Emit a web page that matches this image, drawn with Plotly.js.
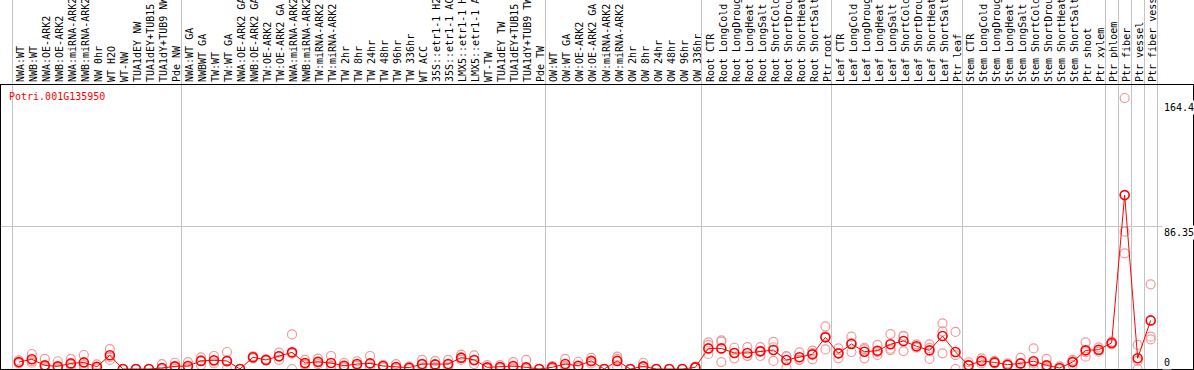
<!DOCTYPE html>
<html>
<head>
<meta charset="utf-8">
<script src="https://cdn.plot.ly/plotly-3.0.1.min.js"></script>
<style>html,body{margin:0;padding:0;background:#fff;}#chart{width:1194px;height:370px;}</style>
</head>
<body>
<div id="chart"></div>
<script>
const geneId = 'Potri.001G135950';

const labels = [
  'NWA:WT','NWB:WT','NWA:OE-ARK2','NWB:OE-ARK2','NWA:miRNA-ARK2','NWB:miRNA-ARK2','NW 0hr','WT H2O','WT-NW','TUA1dEY NW','TUA1dEY+TUB15 NW','TUA1dY+TUB9 NW','Pde NW',
  'NWA:WT GA','NWBWT GA','TW:WT','TW:WT GA','NWA:OE-ARK2 GA','NWB:OE-ARK2 GA','TW:OE-ARK2','TW:OE-ARK2 GA','NWA:miRNA-ARK2','NWB:miRNA-ARK2','TW:miRNA-ARK2','TW:miRNA-ARK2','TW 2hr','TW 8hr','TW 24hr','TW 48hr','TW 96hr','TW 336hr','WT ACC','35S::etr1-1 H2O','35S::etr1-1 ACC','LMX5::etr1-1 H2O','LMX5::etr1-1 ACC','WT-TW','TUA1dEY TW','TUA1dEY+TUB15 TW','TUA1dY+TUB9 TW','Pde TW',
  'OW:WT','OW:WT GA','OW:OE-ARK2','OW:OE-ARK2 GA','OW:miRNA-ARK2','OW:miRNA-ARK2','OW 2hr','OW 8hr','OW 24hr','OW 48hr','OW 96hr','OW 336hr',
  'Root CTR','Root LongCold','Root LongDrought','Root LongHeat','Root LongSalt','Root ShortCold','Root ShortDrought','Root ShortHeat','Root ShortSalt','Ptr root',
  'Leaf CTR','Leaf LongCold','Leaf LongDrought','Leaf LongHeat','Leaf LongSalt','Leaf ShortCold','Leaf ShortDrought','Leaf ShortHeat','Leaf ShortSalt','Ptr leaf',
  'Stem CTR','Stem LongCold','Stem LongDrought','Stem LongHeat','Stem LongSalt','Stem ShortCold','Stem ShortDrought','Stem ShortHeat','Stem ShortSalt','Ptr shoot','Ptr xylem',
  'Ptr phloem','Ptr fiber','Ptr vessel','Ptr fiber vessel'
];

// number of categories in each separated group (left to right)
const groupSizes = [13, 28, 12, 10, 10, 11, 1, 1, 1, 1];

const meanVals = [
  4.2, 5.9, 2.2, 1.6, 3.4, 4.0, 1.4, 8.3, 0, 0, 0, 0.6, 1.6,
  1.8, 4.9, 5.3, 4.9, 0, 7.1, 5.5, 7.7, 10.1, 3.6, 4.4, 3.6, 2.0, 3.0, 3.4, 1.8, 1.2, 0.8, 3.0, 2.8, 3.0, 6.9, 5.5, 1.0, 1.2, 1.8, 1.0, 0,
  1.0, 3.0, 2.0, 4.9, 0, 4.9, 0, 1.6, 0, 0, 0, 1.0,
  12.5, 12.5, 9.7, 9.7, 10.7, 11.5, 5.5, 7.1, 8.9, 19.2,
  9.5, 15.2, 10.5, 11.1, 15.0, 17.0, 13.8, 11.3, 20.0, 10.3,
  2.2, 4.9, 4.0, 2.6, 3.4, 4.7, 2.2, 0.6, 4.2, 11.3, 11.7,
  15.8, 105.5, 6.5, 29.5
];

const rep1 = [
  5.3, 9.1, 6.1, 4.7, 6.1, 8.5, 2.8, 12.1, 0, 0, 0, 3.0, 3.8,
  4.2, 7.1, 7.9, 10.3, 0, 7.1, 5.5, 9.9, 21.0, 5.5, 6.3, 7.9, 3.8, 4.7, 7.9, 2.4, 3.0, 1.0, 5.5, 4.9, 5.5, 8.7, 8.3, 2.4, 2.4, 4.2, 5.5, 0,
  1.8, 6.1, 4.4, 6.7, 0, 7.5, 0, 3.8, 0, 0, 0, 1.0,
  16.2, 17.4, 12.9, 13.3, 13.3, 16.4, 7.7, 10.1, 11.1, 25.9,
  12.5, 19.6, 12.1, 14.6, 21.2, 20.0, 15.0, 15.0, 27.7, 22.5,
  0, 6.5, 4.9, 3.4, 6.7, 12.5, 6.1, 0, 5.5, 16.2, 13.1,
  15.8, 164.4, 14.6, 51.4
];

const rep2 = [
  3.4, 3.8, 1.4, 1.0, 2.6, 2.4, 1.0, 5.5, 0, 0, 0, 0, 1.0,
  1.0, 2.4, 3.4, 0, 0, 6.5, 5.0, 5.5, 0, 3.0, 3.0, 1.0, 1.0, 2.2, 1.0, 1.0, 0, 0, 1.0, 1.0, 1.0, 5.5, 3.0, 0, 0.4, 1.0, 0, 0,
  0, 1.0, 1.0, 3.4, 0, 1.0, 0, 1.0, 0, 0, 0, 0.6,
  14.6, 16.6, 6.5, 7.9, 7.9, 4.9, 1.0, 5.5, 5.9, 11.9,
  6.5, 10.3, 6.5, 8.5, 11.5, 10.9, 13.5, 6.1, 9.5, 0,
  2.5, 3.4, 3.4, 2.2, 3.4, 3.4, 1.0, 1.6, 2.4, 7.5, 10.5,
  15.0, 83.3, 0, 19.6
];

const rep3 = [
  4.0, 4.8, 0, 0, 0.4, 0.4, 0.4, 7.3, 0, 0, 0, 0, 0,
  0.2, 5.2, 4.6, 4.4, 0, 7.7, 6.0, 7.7, 9.3, 2.3, 3.9, 1.9, 1.2, 2.1, 1.3, 2.0, 0.6, 1.4, 2.5, 2.5, 2.5, 6.5, 5.2, 0.6, 0.8, 0.2, 0, 0,
  1.2, 1.9, 0.6, 4.6, 0, 6.2, 0, 0, 0, 0, 0, 1.4,
  9.1, 4.2, 9.7, 8.0, 10.9, 13.2, 7.8, 5.7, 9.7, 19.8,
  9.5, 15.7, 12.9, 10.2, 12.3, 20.1, 12.9, 12.8, 22.8, 8.4,
  4.1, 4.8, 3.7, 2.2, 0.1, 0, 0, 0.2, 4.7, 10.2, 11.5,
  16.6, 70.2, 4.9, 18.0
];

const yGridVals = [86.35];
const yLabelVals = [164.4, 86.35, 0];
const yLabelText = ['164.4', '86.35', '0'];

const idx = labels.map((_, i) => i);

// group boundaries (between categories)
const bounds = [-0.5];
let acc = 0;
groupSizes.forEach(n => { acc += n; bounds.push(acc - 0.5); });

const mono = 'DejaVu Sans Mono, monospace';
const red = '#ff0000';
const pink = '#f29a9a';

const repTraces = [rep1, rep2, rep3].map(r => ({
  type: 'scatter', mode: 'markers', x: idx, y: r, xaxis: 'x', yaxis: 'y',
  marker: {symbol: 'circle-open', size: 9, color: pink, line: {width: 1.2, color: pink}},
  hoverinfo: 'skip', showlegend: false, cliponaxis: true
}));

const meanTrace = {
  type: 'scatter', mode: 'lines+markers', x: idx, y: meanVals, xaxis: 'x', yaxis: 'y',
  line: {color: red, width: 1},
  marker: {symbol: 'circle-open', size: 9, color: red, line: {width: 1.6, color: red}},
  showlegend: false, cliponaxis: true
};

// invisible trace to anchor xaxis2
const sepTrace = {type: 'scatter', mode: 'markers', x: [0], y: [0], xaxis: 'x2', yaxis: 'y',
  marker: {opacity: 0}, hoverinfo: 'skip', showlegend: false};

const xr = [-1.368, -1.368 + 1192 / 13.01];

const yShifts = [-9, -6, 7];

const layout = {
  width: 1194, height: 370,
  margin: {l: 1, r: 1, t: 85, b: 1, pad: 0},
  paper_bgcolor: '#fff', plot_bgcolor: '#fff',
  showlegend: false,
  title: {text: geneId, font: {family: mono, size: 10, color: red},
    xref: 'container', yref: 'container', x: 9 / 1194, xanchor: 'left', y: 1 - 96 / 370, yanchor: 'middle'},
  xaxis: {
    type: 'linear', range: xr, side: 'top', anchor: 'y',
    tickmode: 'array', tickvals: idx, ticktext: labels, tickangle: -90,
    ticks: '', ticklabelshift: 2, ticklabelstandoff: 0,
    tickfont: {family: mono, size: 10, color: '#000'},
    showgrid: false, zeroline: false,
    showline: true, linecolor: '#000', linewidth: 1, mirror: true
  },
  xaxis2: {
    type: 'linear', range: xr, overlaying: 'x', side: 'top', anchor: 'y',
    tickmode: 'array', tickvals: bounds, showticklabels: false,
    ticks: 'outside', ticklen: 85, tickcolor: '#c4c4c4', tickwidth: 1,
    showgrid: true, gridcolor: '#c4c4c4', gridwidth: 1, zeroline: false, showline: false
  },
  yaxis: {
    type: 'linear', range: [0, 172.3], side: 'right',
    tickmode: 'array', tickvals: yGridVals, showticklabels: false, ticks: '',
    showgrid: true, gridcolor: '#c4c4c4', gridwidth: 1, zeroline: false,
    showline: true, linecolor: '#000', linewidth: 1, mirror: true
  },
  annotations: yLabelVals.map((v, k) => ({
    xref: 'paper', yref: 'y', x: 1161 / 1192, y: v, text: yLabelText[k],
    xanchor: 'left', yanchor: 'middle', showarrow: false, bgcolor: '#fff',
    font: {family: mono, size: 10, color: '#000'}, borderpad: 1, yshift: yShifts[k]
  }))
};

Plotly.newPlot('chart', [sepTrace, ...repTraces, meanTrace], layout, {staticPlot: true, displayModeBar: false});
</script>
</body>
</html>
